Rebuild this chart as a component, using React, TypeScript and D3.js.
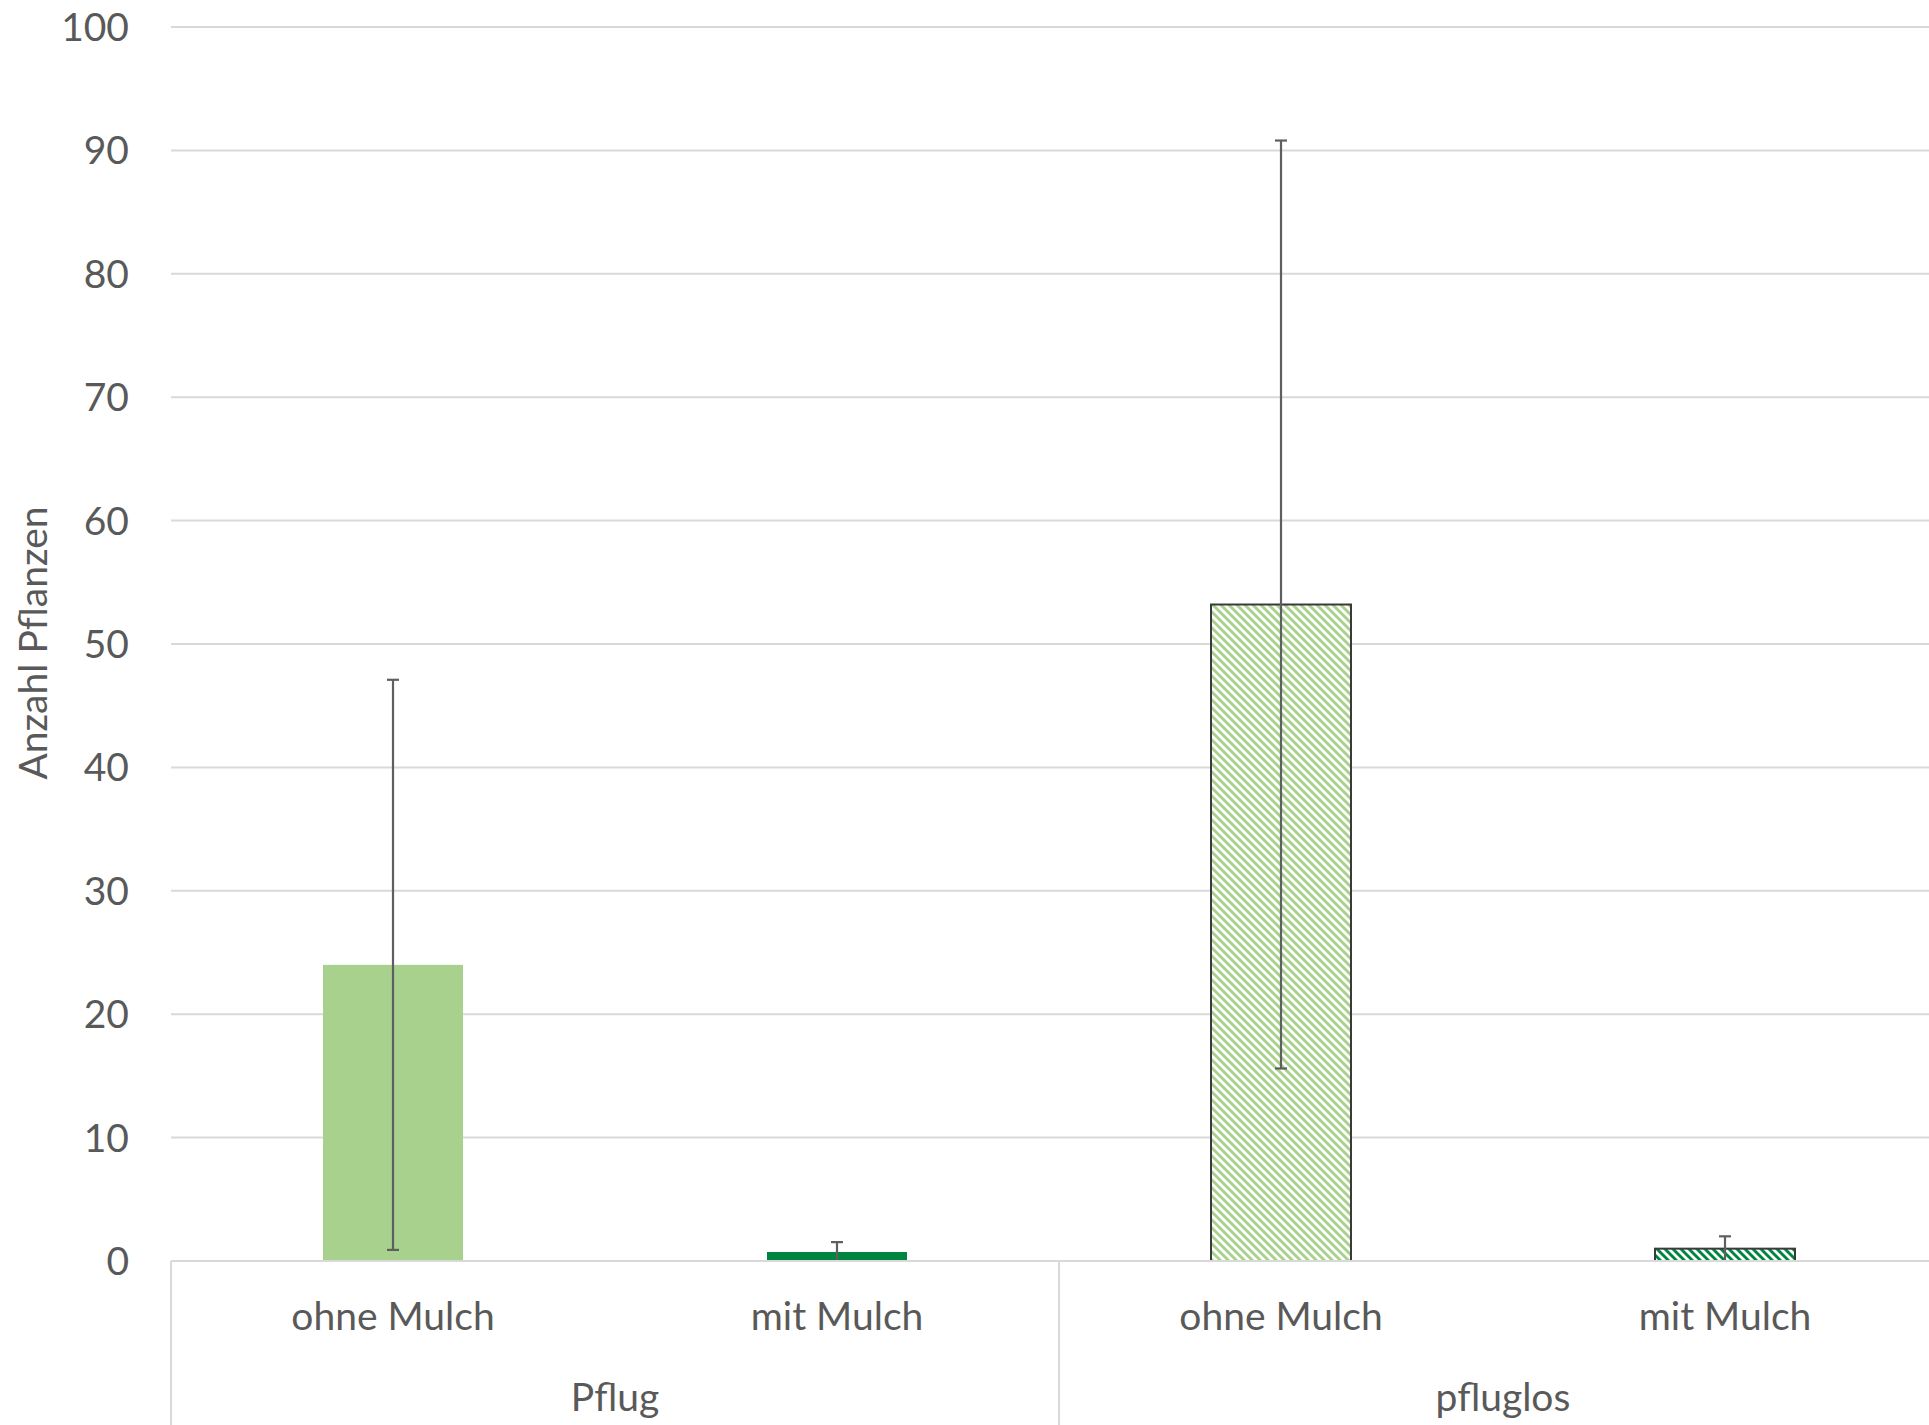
import React from 'react';
import * as d3 from 'd3';

// values
const groups = ['Pflug', 'pfluglos'];
const subLabels = ['ohne Mulch', 'mit Mulch'];
const means = [24.0, 0.73, 53.2, 1.0];
const errors = [23.1, 0.8, 37.6, 1.0];
const yTicks = [0, 10, 20, 30, 40, 50, 60, 70, 80, 90, 100];

const WIDTH = 1929;
const HEIGHT = 1425;
const FONT = "Lato, 'Open Sans', sans-serif";
const TEXT = '#595959';
const GRID = '#D9D9D9';

const App: React.FC = () => {
  const margin = { left: 171, top: 27, bottom: 1261 };
  const keys = groups.flatMap(g => subLabels.map(s => `${g}|${s}`));

  const step = 444;
  const pad = 304 / 444;
  const x = d3.scaleBand<string>()
    .domain(keys)
    .range([margin.left, margin.left + step * keys.length])
    .paddingInner(pad)
    .paddingOuter(pad / 2);

  const y = d3.scaleLinear().domain([0, 100]).range([margin.bottom, margin.top]);

  const fills = ['#A9D18E', '#00853F', 'url(#hatch-light)', 'url(#hatch-dark)'];
  const outlined = [false, false, true, true];

  const groupStart = (gi: number) => x.step() * subLabels.length * gi + margin.left;

  // diagonal "\" hatch tile
  const hatch = (id: string, color: string) => (
    <pattern id={id} patternUnits="userSpaceOnUse" width={8} height={8}>
      <rect width={8} height={8} fill="#fff" />
      <path d="M0,0 L8,8 M-4,4 L4,12 M4,-4 L12,4" stroke={color} strokeWidth={2.9} />
    </pattern>
  );

  return (
    <div style={{ position: 'absolute', left: 0, top: 0 }}>
      <svg width={WIDTH} height={HEIGHT} style={{ display: 'block', background: '#fff' }}>
        <defs>
          {hatch('hatch-light', '#A9D18E')}
          {hatch('hatch-dark', '#00853F')}
        </defs>

        {/* gridlines */}
        {yTicks.map(t => (
          <line key={t} x1={margin.left} x2={WIDTH} y1={y(t)} y2={y(t)}
            stroke={GRID} strokeWidth={2} />
        ))}

        {/* y tick labels */}
        {yTicks.map(t => (
          <text key={`l${t}`} x={129} y={y(t)} dy="0.36em" textAnchor="end"
            fontFamily={FONT} fontSize={39} fill={TEXT}>{t}</text>
        ))}

        <text transform={`translate(${47},${643}) rotate(-90)`} textAnchor="middle"
          fontFamily={FONT} fontSize={39} fill={TEXT}>Anzahl Pflanzen</text>

        {/* bars */}
        {keys.map((k, i) => (
          <rect key={k} x={x(k)} y={y(means[i])} width={x.bandwidth()}
            height={y(0) - y(means[i])} fill={fills[i]}
            stroke={outlined[i] ? '#3A3A3A' : 'none'} strokeWidth={outlined[i] ? 2 : 0} />
        ))}

        {/* error bars */}
        {keys.map((k, i) => {
          const cx = (x(k) ?? 0) + x.bandwidth() / 2;
          const hi = y(means[i] + errors[i]);
          const lo = y(Math.max(0, means[i] - errors[i]));
          return (
            <g key={`e${k}`} stroke="#5F5F5F" strokeWidth={2.2}>
              <line x1={cx} x2={cx} y1={hi} y2={lo} />
              <line x1={cx - 6} x2={cx + 6} y1={hi} y2={hi} />
              {means[i] - errors[i] > 0 && <line x1={cx - 6} x2={cx + 6} y1={lo} y2={lo} />}
            </g>
          );
        })}

        {/* x axis line and group separators */}
        <line x1={margin.left} x2={WIDTH} y1={y(0)} y2={y(0)} stroke={GRID} strokeWidth={2} />
        {[0, 1, 2].map(gi => (
          <line key={`s${gi}`} x1={groupStart(gi)} x2={groupStart(gi)} y1={y(0)} y2={HEIGHT}
            stroke={GRID} strokeWidth={2} />
        ))}

        {/* category labels */}
        {keys.map((k, i) => (
          <text key={`c${k}`} x={(x(k) ?? 0) + x.bandwidth() / 2} y={1316} dy="0.36em"
            textAnchor="middle" fontFamily={FONT} fontSize={39} fill={TEXT}>
            {subLabels[i % subLabels.length]}
          </text>
        ))}
        {groups.map((g, gi) => (
          <text key={`g${g}`} x={groupStart(gi) + x.step()} y={1397} dy="0.36em"
            textAnchor="middle" fontFamily={FONT} fontSize={39} fill={TEXT}>{g}</text>
        ))}
      </svg>
    </div>
  );
};

export default App;
